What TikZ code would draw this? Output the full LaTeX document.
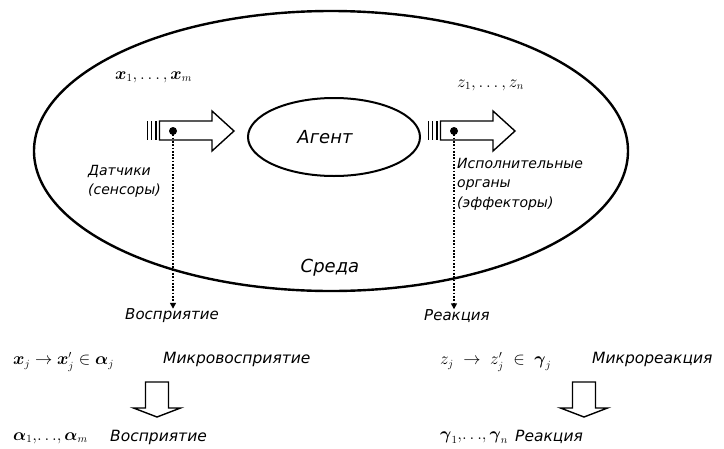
\documentclass[tikz,border=0pt]{standalone}
\usepackage{amsmath}
\usepackage[no-math]{fontspec}
\setmainfont{DejaVu Sans}
\usetikzlibrary{arrows.meta,shapes.geometric}
\begin{document}
\begin{tikzpicture}[x=1pt,y=-1pt,
  lbl/.style={font=\fontsize{14}{19.5}\selectfont\itshape, inner sep=0pt, align=left},
  lblo/.style={font=\fontsize{15}{18}\selectfont\itshape, inner sep=0pt},
  lblb/.style={font=\fontsize{15.5}{18}\selectfont\itshape, inner sep=0pt},
  lblbig/.style={font=\fontsize{18}{20}\selectfont\itshape, inner sep=0pt},
  mth/.style={font=\fontsize{16}{18}\selectfont, inner sep=0pt},
  envshape/.style={draw, ellipse, line width=2.4pt, inner sep=0pt},
  agentshape/.style={draw, ellipse, line width=2pt, inner sep=0pt},
  sensorarrow/.style={draw, line width=1.4pt, line join=miter},
  sensorbar/.style={line width=1.5pt},
  blockarrow/.style={draw, line width=1.4pt, line join=miter},
  probe/.style={line width=1.7pt, dash pattern=on 1.7pt off 1.6pt, -{Triangle[length=6pt,width=6pt]}},
  dotmark/.style={fill=black}
]
\useasboundingbox (0,0) rectangle (724,448);

% environment and agent
\node[envshape, minimum width=594pt, minimum height=280pt] (env) at (331,151) {};
\node[agentshape, minimum width=172pt, minimum height=78pt] (agent) at (334,137) {};
\node[lblbig] (agenttxt) at (325,137) {Агент};
\node[lblbig] (sreda) at (330,268) {Среда};

% sensor arrow (left)
\foreach \bx in {147.5,151.5,155.8} \draw[sensorbar] (\bx,121) -- (\bx,140);
\draw[sensorarrow] (159.5,121) -- (212,121) -- (212,111) -- (234,131) -- (212,151) -- (212,140) -- (159.5,140) -- cycle;
\coordinate (sdot) at (173,131);
\fill[dotmark] (sdot) circle (4);

% effector arrow (right)
\foreach \bx in {428.5,432.5,436.8} \draw[sensorbar] (\bx,121) -- (\bx,140);
\draw[sensorarrow] (440.5,121) -- (493,121) -- (493,111) -- (515,131) -- (493,151) -- (493,140) -- (440.5,140) -- cycle;
\coordinate (edot) at (454,131);
\fill[dotmark] (edot) circle (4);

% labels inside
\node[mth, anchor=west] (xs) at (115,77) {$\boldsymbol{x}_1,\ldots,\boldsymbol{x}_m$};
\node[mth, anchor=west] (zs) at (457,85) {$z_1,\ldots,z_n$};
\node[lbl, anchor=north west] (sens) at (88,165) {Датчики\\(сенсоры)};
\node[lbl, anchor=north west] (effs) at (457,158) {Исполнительные\\органы\\(эффекторы)};

% perception / reaction
\node[lblo] (perc) at (172,316) {Восприятие};
\node[lblo] (react) at (457,316) {Реакция};
\draw[probe] (sdot) -- (sdot |- perc.north);
\draw[probe] (edot) -- (edot |- react.north);

% bottom left
\node[mth, anchor=west] (fx) at (13,362) {$\boldsymbol{x}_j \rightarrow \boldsymbol{x}'_j \in \boldsymbol{\alpha}_j$};
\node[lblb, anchor=west] (microp) at (163,359) {Микровосприятие};
\draw[blockarrow] (145.5,382) -- (168.5,382) -- (168.5,408) -- (180.5,408) -- (157,417) -- (133.5,408) -- (145.5,408) -- cycle;
\node[mth, anchor=west] (al) at (13,438) {$\boldsymbol{\alpha}_1,\!\ldots\!,\boldsymbol{\alpha}_m$};
\node[lblb, anchor=west] (perc2) at (110,437) {Восприятие};

% bottom right
\node[mth, anchor=west] (fz) at (440,362) {$z_j \;\rightarrow\; z'_j \;\in\; \boldsymbol{\gamma}_j$};
\node[lblb, anchor=west] (micror) at (592,359) {Микрореакция};
\draw[blockarrow] (572.5,382) -- (595.5,382) -- (595.5,408) -- (607.5,408) -- (584,417) -- (560.5,408) -- (572.5,408) -- cycle;
\node[mth, anchor=west] (ga) at (440,438) {$\boldsymbol{\gamma}_1,\!\ldots\!,\boldsymbol{\gamma}_n$};
\node[lblb, anchor=west] (react2) at (515,437) {Реакция};
\end{tikzpicture}
\end{document}
